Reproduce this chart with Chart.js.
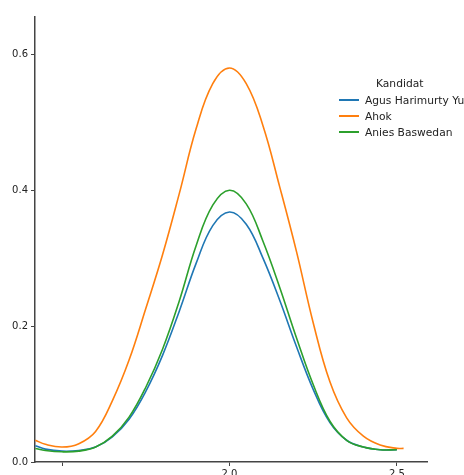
<!DOCTYPE html>
<html>
<head>
<meta charset="utf-8">
<script src="https://cdn.jsdelivr.net/npm/chart.js@4.4.0/dist/chart.umd.min.js"></script>
<style>
  html, body { margin: 0; padding: 0; width: 464px; height: 475px; overflow: hidden; background: #fff; }
  #wrap { position: relative; width: 464px; height: 475px; overflow: hidden; }
  canvas { position: absolute; left: 0; top: 0; }
  #legend { position: absolute; left: 339px; top: 77px; font-family: "DejaVu Sans", sans-serif; font-size: 10.7px; color: #222; white-space: nowrap; }
  #legend .title { margin-left: 37px; height: 15px; }
  #legend .row { height: 16px; display: flex; align-items: center; }
  #legend .swatch { width: 20px; height: 2px; margin-right: 6px; }
</style>
</head>
<body>
<div id="wrap">
  <canvas id="kde" width="464" height="490"></canvas>
  <div id="legend"></div>
</div>
<script>
// density curves
const xValues = [1.42, 1.45, 1.50, 1.55, 1.60, 1.65, 1.70, 1.75, 1.80, 1.85, 1.90, 1.95, 2.00,
                 2.05, 2.10, 2.15, 2.20, 2.25, 2.30, 2.35, 2.40, 2.45, 2.50, 2.52];
const candidates = ['Agus Harimurty Yudhoyono', 'Ahok', 'Anies Baswedan'];
const agus  = [0.024, 0.019, 0.016, 0.017, 0.022, 0.037, 0.063, 0.104, 0.157, 0.222, 0.292, 0.348, 0.368,
               0.350, 0.300, 0.238, 0.170, 0.107, 0.058, 0.032, 0.022, 0.018, 0.018, null];
const ahok  = [0.032, 0.026, 0.022, 0.027, 0.045, 0.090, 0.150, 0.226, 0.305, 0.395, 0.490, 0.557, 0.580,
               0.557, 0.495, 0.405, 0.310, 0.205, 0.118, 0.065, 0.038, 0.025, 0.020, 0.020];
const anies = [0.020, 0.017, 0.015, 0.016, 0.022, 0.038, 0.066, 0.110, 0.166, 0.237, 0.318, 0.378, 0.400,
               0.380, 0.325, 0.257, 0.183, 0.114, 0.060, 0.032, 0.022, 0.018, 0.018, null];
const xTicks = [1.5, 2.0, 2.5];
const yTicks = [0.0, 0.2, 0.4, 0.6];
const colors = ['#1f77b4', '#ff7f0e', '#2ca02c'];

function toPoints(values) {
  const pts = [];
  values.forEach((v, i) => {
    if (v !== null) pts.push({ x: xValues[i], y: v });
  });
  return pts;
}

const seriesList = [agus, ahok, anies];
const datasets = seriesList.map((vals, i) => ({
  label: candidates[i],
  data: toPoints(vals),
  borderColor: colors[i],
  borderWidth: 1.6,
  pointRadius: 0,
  fill: false,
  tension: 0.4,
  order: 3 - i
}));

const axisColor = '#444';
const tickFont = { family: 'DejaVu Sans', size: 10 };

new Chart(document.getElementById('kde').getContext('2d'), {
  type: 'line',
  data: { datasets: datasets },
  options: {
    responsive: false,
    animation: false,
    layout: { padding: { top: 17, right: 37, left: 0, bottom: 0 } },
    plugins: { legend: { display: false }, tooltip: { enabled: false } },
    scales: {
      x: {
        type: 'linear',
        min: 1.419,
        max: 2.59,
        afterBuildTicks: s => { s.ticks = xTicks.map(v => ({ value: v })); },
        afterFit: s => { s.height = 28; },
        border: { color: axisColor, width: 1.5 },
        grid: { drawOnChartArea: false, color: axisColor, tickLength: 4 },
        ticks: {
          color: '#222', font: tickFont, padding: 2,
          callback: v => (v === 1.5 ? '' : v.toFixed(1))
        }
      },
      y: {
        min: 0,
        max: 0.655,
        afterBuildTicks: s => { s.ticks = yTicks.map(v => ({ value: v })); },
        afterFit: s => { s.width = 35; },
        border: { color: axisColor, width: 1.5 },
        grid: { drawOnChartArea: false, color: axisColor, tickLength: 4 },
        ticks: { color: '#222', font: tickFont, padding: 3, callback: v => v.toFixed(1) }
      }
    }
  }
});

// legend like the seaborn one, at the upper right
const legend = document.getElementById('legend');
let html = '<div class="title">Kandidat</div>';
candidates.forEach((name, i) => {
  html += '<div class="row"><span class="swatch" style="background:' + colors[i] + '"></span>' + name + '</div>';
});
legend.innerHTML = html;
</script>
</body>
</html>
